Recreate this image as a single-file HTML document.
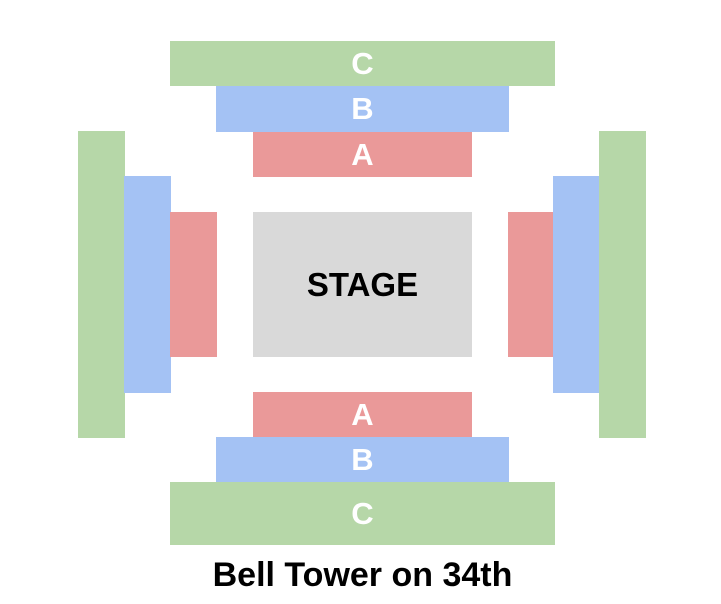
<!DOCTYPE html>
<html><head><style>
body{margin:0;width:721px;height:604px;background:#fff;position:relative;font-family:"Liberation Sans",Arial,sans-serif;overflow:hidden}
div.r{position:absolute;display:flex;align-items:center;justify-content:center;color:#fff;font-weight:bold;font-size:31px}
.g{background:#b6d7a8}.b{background:#a4c2f4}.a{background:#ea9999}
</style></head><body>
<div class="r g" style="left:170px;top:41px;width:385px;height:45px">C</div>
<div class="r b" style="left:216px;top:86px;width:293px;height:46px">B</div>
<div class="r a" style="left:253px;top:132px;width:219px;height:45px">A</div>
<div class="r" style="left:253px;top:212px;width:219px;height:145px;background:#d9d9d9;color:#000;font-size:33px">STAGE</div>
<div class="r a" style="left:253px;top:392px;width:219px;height:45px">A</div>
<div class="r b" style="left:216px;top:437px;width:293px;height:45px">B</div>
<div class="r g" style="left:170px;top:482px;width:385px;height:63px">C</div>
<div class="r g" style="left:78px;top:131px;width:47px;height:307px"></div>
<div class="r b" style="left:124px;top:176px;width:47px;height:217px"></div>
<div class="r a" style="left:170px;top:212px;width:47px;height:145px"></div>
<div class="r a" style="left:508px;top:212px;width:46px;height:145px"></div>
<div class="r b" style="left:553px;top:176px;width:47px;height:217px"></div>
<div class="r g" style="left:599px;top:131px;width:47px;height:307px"></div>
<div style="position:absolute;left:0;width:725px;top:556px;text-align:center;font-weight:bold;font-size:34px;color:#000">Bell Tower on 34th</div>
</body></html>
